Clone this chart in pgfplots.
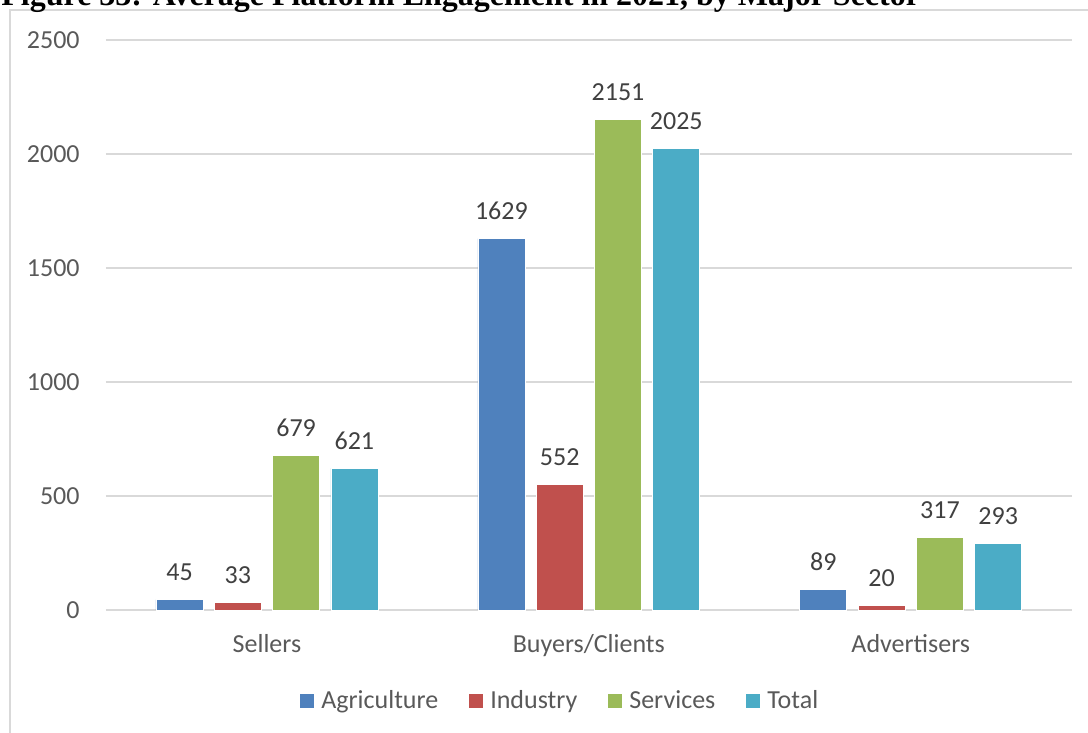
\documentclass[border=0pt]{standalone}
\usepackage{fontspec}
\setmainfont{Carlito}
\newfontfamily\titlefont{Liberation Serif}
\usepackage{pgfplots}
\pgfplotsset{compat=1.18}
\definecolor{agri}{HTML}{4F81BD}
\definecolor{indu}{HTML}{C0504D}
\definecolor{serv}{HTML}{9BBB59}
\definecolor{tota}{HTML}{4BACC6}
\definecolor{txt}{HTML}{595959}
\definecolor{lbl}{HTML}{404040}
\definecolor{grd}{HTML}{D9D9D9}
\begin{document}
\begin{tikzpicture}
\useasboundingbox (0,0) rectangle (544pt,366.5pt);
\clip (0,0) rectangle (544pt,366.5pt);
\draw[grd, line width=1pt] (5pt,-5pt) -- (5pt,361.25pt) -- (560pt,361.25pt);
\node[anchor=base west, inner sep=0pt, font={\titlefont\bfseries\fontsize{16pt}{18pt}\selectfont}] at (0.5pt,363.5pt) {Figure 33: Average Platform Engagement in 2021, by Major Sector};
\begin{axis}[
  at={(53pt,61.5pt)}, anchor=south west,
  scale only axis, width=482.85pt, height=285pt,
  xmin=-0.5, xmax=2.5, ymin=0, ymax=2500,
  ytick={0,500,1000,1500,2000,2500},
  xtick={0,1,2}, xticklabels={Sellers,Buyers/Clients,Advertisers},
  /pgf/number format/assume math mode=true,
  /pgf/number format/1000 sep={},
  ymajorgrids, grid style={grd, line width=0.75pt},
  axis line style={draw=none}, major tick length=0pt,
  tick label style={font=\fontsize{13pt}{15pt}\selectfont, text=txt},
  yticklabel style={anchor=east, inner sep=0pt, xshift=-13pt},
  xticklabel style={anchor=base, inner sep=0pt, yshift=-21.5pt},
  ybar=5.65pt, bar width=23.5pt,
  nodes near coords,
  nodes near coords style={font=\fontsize{13pt}{15pt}\selectfont, text=lbl, anchor=base, inner sep=0pt, yshift=9.5pt},
  every axis plot/.append style={draw=white, line width=0.4pt},
  legend columns=-1,
  legend style={at={(0.4730,-0.1596)}, anchor=center, draw=none, fill=none,
    font=\fontsize{13pt}{15pt}\selectfont, text=txt,
    /tikz/every even column/.append style={column sep=12pt},
    nodes={inner xsep=3.5pt, inner ysep=0pt}},
  legend image code/.code={\fill[#1,draw=none] (0pt,-3.5pt) rectangle (7pt,3.5pt);},
  clip=false,
]
\addplot[fill=agri] coordinates {(0,45) (1,1629) (2,89)};
\addplot[fill=indu] coordinates {(0,33) (1,552) (2,20)};
\addplot[fill=serv] coordinates {(0,679) (1,2151) (2,317)};
\addplot[fill=tota] coordinates {(0,621) (1,2025) (2,293)};
\legend{Agriculture,Industry,Services,Total}
\end{axis}
\end{tikzpicture}
\end{document}
